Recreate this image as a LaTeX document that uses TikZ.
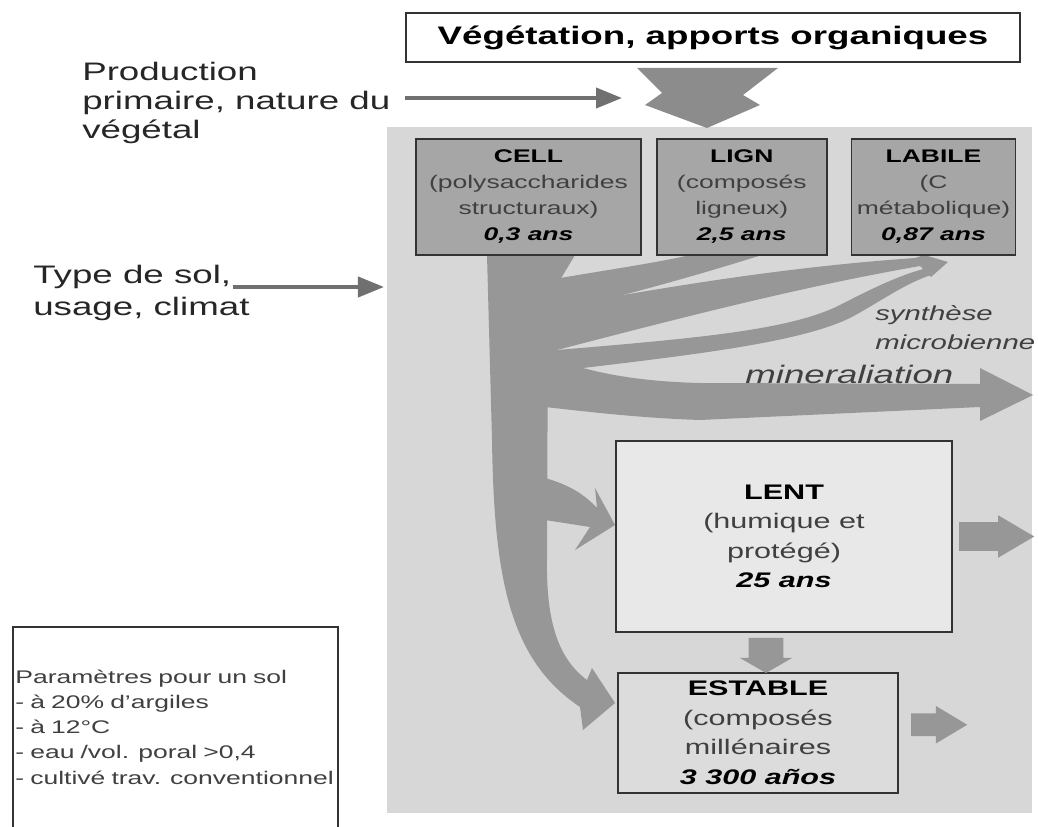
\documentclass[tikz,border=0pt]{standalone}
\usepackage{fontspec}
\setmainfont{Liberation Sans}[FakeStretch=1.45]
\usetikzlibrary{arrows.meta,positioning,shapes.arrows}

\definecolor{fond}{HTML}{D7D7D7}
\definecolor{flux}{HTML}{979797}
\definecolor{pool}{HTML}{A6A6A6}
\definecolor{lentfill}{HTML}{E8E8E8}
\definecolor{stabfill}{HTML}{DCDCDC}
\definecolor{fleche}{HTML}{8C8C8C}
\definecolor{trait}{HTML}{333333}
\definecolor{texte}{HTML}{404040}

\begin{document}
\begin{tikzpicture}[x=0.025cm,y=-0.025cm,>=Triangle]
  \tikzstyle{entree}=[draw=trait,line width=1.2pt,fill=pool,inner sep=0pt,align=center,font=\fontsize{13}{18.5}\selectfont,minimum height=2.9cm]
  \tikzstyle{bac}=[draw=trait,line width=1.2pt,inner sep=0pt,align=center,font=\fontsize{15}{21}\selectfont]
  \tikzstyle{etiquette}=[inner sep=0pt,align=left,font=\fontsize{18}{20.6}\selectfont,text=black!85]
  \tikzstyle{fin}=[draw=fleche!80!black,line width=2.8pt,-{Triangle[length=0.65cm,width=0.5cm]}]
  \tikzstyle{gros}=[single arrow,fill=flux,inner xsep=0pt]

  \useasboundingbox (0,0) rectangle (1038,827);

  \node[draw=trait,line width=1pt,fill=white,minimum width=15.35cm,minimum height=1.225cm,font=\bfseries\fontsize{18}{20}\selectfont] (veg) at (713,37.5) {Végétation, apports organiques};
  \node[fill=fond,minimum width=16.125cm,minimum height=17.15cm,inner sep=0pt] (sol) at (709.5,470) {};

  \fill[fleche] (637,68) -- (778,68) -- (743,95) -- (760,105) -- (707,128) -- (645,105) -- (662,93) -- cycle;

  \fill[flux] (487,255) -- (575,255) -- (560,280) -- (548,300) -- (547,560)
      .. controls (546,625) and (560,660) .. (587,680) -- (592,668) -- (615,703)
      -- (583,730) -- (580,707) .. controls (510,660) and (494,580) .. (492,440) -- cycle;
  \fill[flux] (545,282) -- (560,278) .. controls (620,268) and (660,262) .. (690,255)
      -- (762,255) .. controls (720,268) and (680,280) .. (623,295) -- (545,305) -- cycle;
  \fill[flux] (545,298) -- (623,295) .. controls (700,282) and (800,266) .. (915,258)
      -- (924,255) -- (948,262) -- (931,277) -- (920,266)
      .. controls (800,287) and (680,318) .. (557,350) -- (545,352) -- cycle;
  \fill[flux] (545,345) -- (557,350) .. controls (700,338) and (790,330) .. (840,305)
      .. controls (875,287) and (900,275) .. (927,268) -- (934,274)
      .. controls (905,283) and (880,302) .. (850,318)
      .. controls (800,342) and (700,354) .. (583,368) -- (545,372) -- cycle;
  \fill[flux] (545,362) -- (583,368) .. controls (620,378) and (660,382) .. (700,383)
      -- (980,384) -- (980,368) -- (1033,395) -- (980,421) -- (980,407)
      -- (700,420) .. controls (640,418) and (590,412) .. (545,407) -- cycle;
  \fill[flux] (545,478) .. controls (570,485) and (585,495) .. (597,508) -- (595,488)
      -- (615,525) -- (575,550) -- (590,527) -- (545,520) -- cycle;

  \node[entree,minimum width=5.625cm] (cell) at (528.5,197) {\textbf{CELL}\\ \textcolor{texte}{(polysaccharides}\\ \textcolor{texte}{structuraux)}\\ \textbf{\textit{0,3 ans}}};
  \node[entree,minimum width=4.25cm,right=0.35cm of cell] (lign) {\textbf{LIGN}\\ \textcolor{texte}{(composés}\\ \textcolor{texte}{ligneux)}\\ \textbf{\textit{2,5 ans}}};
  \node[entree,minimum width=4.1cm,right=0.575cm of lign] (labile) {\textbf{LABILE}\\ \textcolor{texte}{(C}\\ \textcolor{texte}{métabolique)}\\ \textbf{\textit{0,87 ans}}};

  \node[font=\itshape\fontsize{14.4}{21}\selectfont,text=texte,align=left,anchor=north west,inner sep=0pt] (synth) at (875,305) {synthèse\\microbienne};
  \node[font=\itshape\fontsize{18}{20}\selectfont,text=texte,anchor=base west,inner sep=0pt] (minera) at (745,383) {mineraliation};

  \node[bac,fill=lentfill,minimum width=8.4cm,minimum height=4.775cm] (lent) at (784,536.5) {\textbf{LENT}\\ \textcolor{texte}{(humique et}\\ \textcolor{texte}{protégé)}\\ \textbf{\textit{25 ans}}};
  \node[bac,fill=stabfill,minimum width=7cm,minimum height=3cm,below right=0.975cm and 0.05cm of lent.south west] (estable) {\textbf{ESTABLE}\\ \textcolor{texte}{(composés}\\ \textcolor{texte}{millénaires}\\ \textbf{\textit{3 300 años}}};

  \node[gros,inner ysep=0.35cm,minimum height=1.875cm,single arrow head extend=0.175cm,single arrow tip angle=61,right=0.15cm of lent] (sortlent) {};
  \node[gros,inner ysep=0.275cm,minimum height=1.4cm,single arrow head extend=0.19cm,single arrow tip angle=62,right=0.3cm of estable,yshift=0.2cm] (sortstab) {};
  \node[gros,inner ysep=0.425cm,minimum height=0.875cm,single arrow head extend=0.225cm,single arrow tip angle=120,rotate=-90] (lentstab) at (766,650.5) {};

  \node[etiquette,anchor=north west] (prod) at (82,62) {Production\\primaire, nature du\\végétal};
  \coordinate (prodtip) at (622,98);
  \draw[fin] (veg.west |- prodtip) -- (prodtip);

  \node[etiquette,anchor=north west,font=\fontsize{18}{22.8}\selectfont] (typesol) at (33,265) {Type de sol,\\usage, climat};
  \coordinate (typetip) at (384,287);
  \draw[fin,shorten <=-0.43cm] (typetip -| typesol.east) -- (typetip);

  \node[fill=white,anchor=north west,text width=8cm,minimum height=5cm,align=left,inner xsep=1.5pt,font=\fontsize{13}{17.8}\selectfont,text=texte] (param) at (13,627) {Paramètres pour un sol\\- à 20\% d’argiles\\- à 12°C\\- eau /vol. poral >0,4\\- cultivé trav. conventionnel};
  \draw[trait,line width=1.2pt] (param.south west) |- (param.north east) -- (param.south east);
\end{tikzpicture}
\end{document}
